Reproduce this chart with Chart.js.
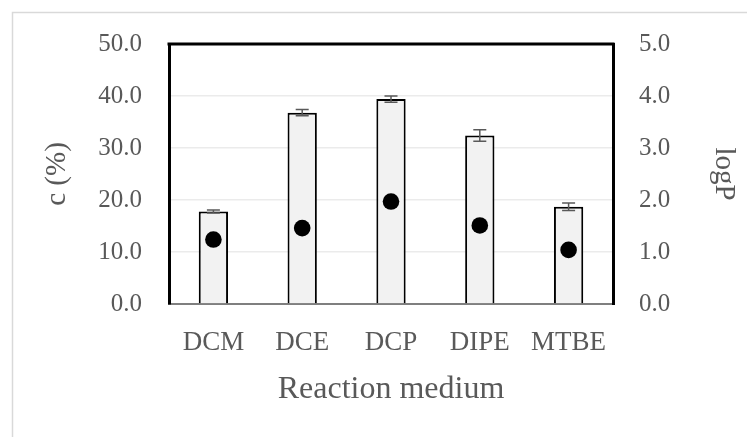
<!DOCTYPE html>
<html>
<head>
<meta charset="utf-8">
<script src="https://cdn.jsdelivr.net/npm/chart.js@4/dist/chart.umd.min.js"></script>
<style>
  html, body { margin: 0; padding: 0; background: #fff; }
  #wrap { width: 747px; height: 437px; position: relative; }
</style>
</head>
<body>
<div id="wrap"><canvas id="myChart" width="747" height="437"></canvas></div>
<script>
// datos
const categories = ['DCM', 'DCE', 'DCP', 'DIPE', 'MTBE'];
const conversion = [17.8, 36.8, 39.4, 32.4, 18.7];      // c (%)
const conversionErr = [0.3, 0.6, 0.6, 1.1, 0.7];
const logP = [1.24, 1.46, 1.97, 1.51, 1.04];
const leftTicks = [0, 10, 20, 30, 40, 50];
const rightTicks = [0, 1, 2, 3, 4, 5];

const gray = '#595959';
const serif = "'Liberation Serif', 'DejaVu Serif', serif";

// marco exterior gris claro
const outerFrame = {
    id: 'outerFrame',
    beforeDraw(chart) {
        const c = chart.ctx;
        c.save();
        c.strokeStyle = '#d9d9d9';
        c.lineWidth = 1.5;
        c.beginPath();
        c.moveTo(12.5, chart.height);
        c.lineTo(12.5, 12.5);
        c.lineTo(chart.width, 12.5);
        c.stroke();
        c.restore();
    }
};

// linea superior del area de trazado + barras de error
const plotExtras = {
    id: 'plotExtras',
    afterDatasetsDraw(chart) {
        const c = chart.ctx;
        const area = chart.chartArea;
        const yScale = chart.scales.y;
        const meta = chart.getDatasetMeta(1);
        c.save();
        c.strokeStyle = gray;
        c.lineWidth = 1.5;
        meta.data.forEach((bar, i) => {
            const v = conversion[i], e = conversionErr[i];
            const yTop = yScale.getPixelForValue(v + e);
            const yBot = yScale.getPixelForValue(v - e);
            c.beginPath();
            c.moveTo(bar.x, yTop);
            c.lineTo(bar.x, yBot);
            c.moveTo(bar.x - 6.5, yTop);
            c.lineTo(bar.x + 6.5, yTop);
            c.moveTo(bar.x - 6.5, yBot);
            c.lineTo(bar.x + 6.5, yBot);
            c.stroke();
        });
        c.strokeStyle = '#000';
        c.lineWidth = 3;
        c.beginPath();
        c.moveTo(area.left - 1.5, area.top);
        c.lineTo(area.right + 1.5, area.top);
        c.stroke();
        c.restore();
    }
};

const ctx = document.getElementById('myChart').getContext('2d');
const myChart = new Chart(ctx, {
    type: 'bar',
    data: {
        labels: categories,
        datasets: [{
            type: 'line',
            data: logP,
            yAxisID: 'y1',
            showLine: false,
            pointRadius: 8.3,
            pointBackgroundColor: '#000',
            pointBorderWidth: 0,
            order: 0
        }, {
            data: conversion,
            yAxisID: 'y',
            backgroundColor: '#f2f2f2',
            borderColor: '#000',
            borderWidth: 2,
            barPercentage: 0.33,
            categoryPercentage: 1,
            order: 1
        }]
    },
    options: {
        responsive: false,
        animation: false,
        layout: { padding: { top: 44, left: 0, right: 0, bottom: 0 } },
        plugins: {
            legend: { display: false },
            tooltip: { enabled: false }
        },
        scales: {
            x: {
                grid: { display: false, drawTicks: false },
                border: { color: '#7f7f7f', width: 2 },
                ticks: { color: gray, padding: 23, font: { family: serif, size: 27 } },
                title: {
                    display: true,
                    text: 'Reaction medium',
                    color: gray,
                    font: { family: serif, size: 32 },
                    padding: { top: 0, bottom: 28 }
                },
                afterFit: s => { s.height = 133; }
            },
            y: {
                position: 'left',
                min: 0,
                max: 50,
                afterBuildTicks: s => { s.ticks = leftTicks.map(v => ({ value: v })); },
                grid: { color: '#ebebeb', lineWidth: 1.5, drawTicks: false },
                border: { color: '#000', width: 3 },
                ticks: {
                    color: gray, padding: 27,
                    font: { family: serif, size: 25 },
                    callback: v => v.toFixed(1)
                },
                title: {
                    display: true,
                    text: 'c (%)',
                    color: gray,
                    font: { family: serif, size: 29 },
                    padding: { top: 40, bottom: 0 }
                },
                afterFit: s => { s.width = 169; }
            },
            y1: {
                position: 'right',
                min: 0,
                max: 5,
                afterBuildTicks: s => { s.ticks = rightTicks.map(v => ({ value: v })); },
                grid: { display: false, drawTicks: false },
                border: { color: '#000', width: 3 },
                ticks: {
                    color: gray, padding: 26,
                    font: { family: serif, size: 25 },
                    callback: v => v.toFixed(1)
                },
                title: {
                    display: true,
                    text: 'logP',
                    color: gray,
                    font: { family: serif, size: 29 },
                    padding: { top: 6, bottom: 0 }
                },
                afterFit: s => { s.width = 134; }
            }
        }
    },
    plugins: [outerFrame, plotExtras]
});
</script>
</body>
</html>
